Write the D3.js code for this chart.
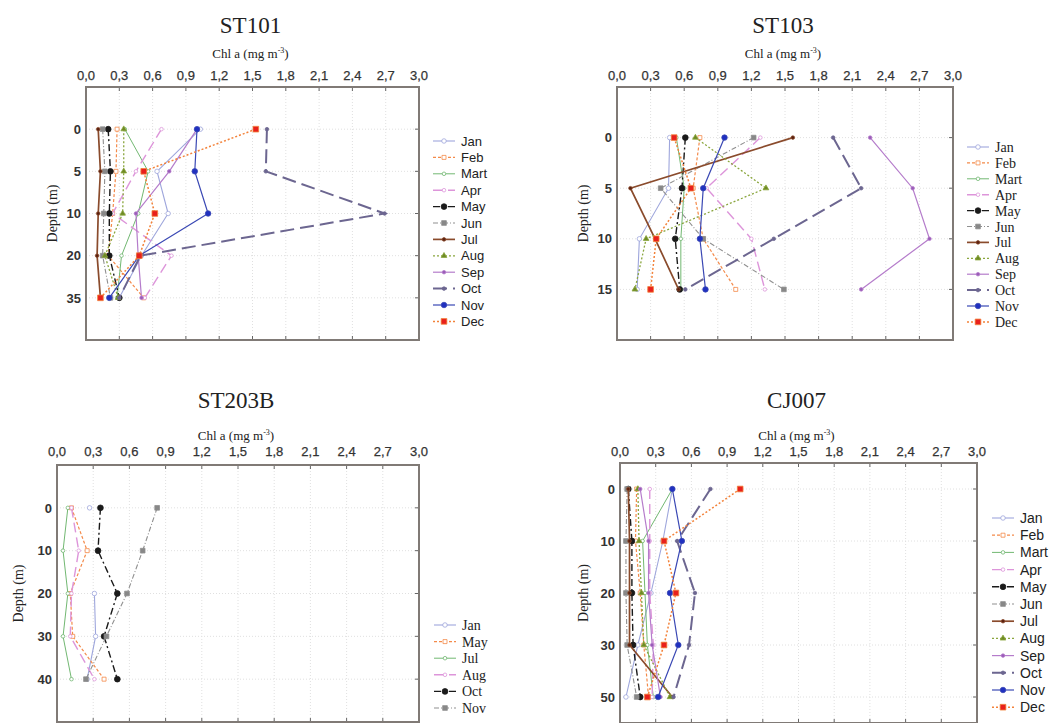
<!DOCTYPE html>
<html>
<head>
<meta charset="utf-8">
<script src="https://cdn.jsdelivr.net/npm/d3@7"></script>
<style>
  body { margin: 0; background: #fff; }
  svg { display: block; }
</style>
</head>
<body>
<svg id="chart" width="1053" height="723"></svg>
<script>
// chl a ticks, shared by all four panels
const xTicks = [0, 0.3, 0.6, 0.9, 1.2, 1.5, 1.8, 2.1, 2.4, 2.7, 3.0];

// ST101
const st101Depths = [0, 5, 10, 20, 35];
const st101Months = ["Jan", "Feb", "Mart", "Apr", "May", "Jun", "Jul", "Aug", "Sep", "Oct", "Nov", "Dec"];
const st101Values = [
  [1.03, 0.64, 0.74, 0.50, 0.30],
  [0.28, 0.27, 0.24, 0.20, 0.52],
  [0.35, 0.56, 0.47, 0.32, 0.28],
  [0.68, 0.45, 0.24, 0.77, 0.53],
  [0.20, 0.22, 0.21, 0.21, 0.30],
  [0.15, 0.17, 0.16, 0.15, 0.22],
  [0.11, 0.13, 0.11, 0.10, 0.13],
  [0.34, 0.34, 0.33, 0.17, 0.29],
  [1.00, 0.75, 0.45, 0.47, 0.50],
  [1.63, 1.62, 2.69, 0.49, 0.30],
  [1.00, 0.98, 1.10, 0.48, 0.21],
  [1.53, 0.52, 0.62, 0.48, 0.13]
];

// ST103
const st103Depths = [0, 5, 10, 15];
const st103Months = ["Jan", "Feb", "Mart", "Apr", "May", "Jun", "Jul", "Aug", "Sep", "Oct", "Nov", "Dec"];
const st103Values = [
  [0.47, 0.46, 0.20, 0.18],
  [0.74, 0.68, 0.77, 1.06],
  [0.53, 0.60, 0.57, 0.57],
  [1.28, 0.80, 1.20, 1.32],
  [0.61, 0.58, 0.52, 0.56],
  [1.22, 0.39, 0.77, 1.49],
  [1.57, 0.12, 0.34, 0.55],
  [0.70, 1.33, 0.26, 0.16],
  [2.26, 2.64, 2.79, 2.18],
  [1.93, 2.18, 1.40, 0.61],
  [0.96, 0.77, 0.74, 0.79],
  [0.51, 0.66, 0.35, 0.30]
];

// ST203B
const st203bDepths = [0, 10, 20, 30, 40];
const st203bMonths = ["Jan", "May", "Jul", "Aug", "Oct", "Nov"];
const st203bValues = [
  [0.27, null, 0.31, 0.32, 0.25],
  [0.12, 0.25, 0.11, 0.13, 0.39],
  [0.09, 0.05, 0.09, 0.05, 0.12],
  [0.12, 0.18, 0.12, 0.11, 0.31],
  [0.36, 0.34, 0.50, 0.39, 0.50],
  [0.83, 0.71, 0.58, 0.41, 0.24]
];

// CJ007
const cj007Depths = [0, 10, 20, 30, 50];
const cj007Months = ["Jan", "Feb", "Mart", "Apr", "May", "Jun", "Jul", "Aug", "Sep", "Oct", "Nov", "Dec"];
const cj007Values = [
  [0.44, 0.36, 0.26, 0.15, 0.05],
  [0.14, 0.13, 0.17, 0.20, 0.24],
  [0.44, 0.19, 0.21, 0.23, 0.28],
  [0.25, 0.25, 0.25, 0.28, 0.27],
  [0.07, 0.10, 0.10, 0.11, 0.17],
  [0.06, 0.05, 0.05, 0.06, 0.14],
  [0.07, 0.08, 0.08, 0.08, 0.44],
  [0.15, 0.16, 0.18, 0.20, 0.42],
  [0.17, 0.24, 0.24, 0.27, 0.34],
  [0.76, 0.48, 0.63, 0.58, 0.45],
  [0.44, 0.52, 0.42, 0.49, 0.32],
  [1.01, 0.37, 0.47, 0.37, 0.23]
];

// line styles go by series order, like the original plotting program
const styles = [
  { color: "#9ea6dc", dash: null,      w: 1.1, sym: d3.symbolCircle,   size: 16, fill: "#fff" },
  { color: "#f48a4a", dash: "3,2",     w: 1.2, sym: d3.symbolSquare,   size: 16, fill: "#fff" },
  { color: "#72b872", dash: null,      w: 1.0, sym: d3.symbolCircle,   size: 10, fill: "#fff" },
  { color: "#dd95da", dash: "10,5",    w: 1.4, sym: d3.symbolCircle,   size: 10, fill: "#fff" },
  { color: "#1a1a1a", dash: "7,3,2,3", w: 1.4, sym: d3.symbolCircle,   size: 26, fill: "#1a1a1a" },
  { color: "#909090", dash: "5,2,1,2", w: 1.1, sym: d3.symbolSquare,   size: 22, fill: "#888" },
  { color: "#8a4b2c", dash: null,      w: 1.7, sym: d3.symbolCircle,   size: 10, fill: "#5a2010" },
  { color: "#8aa63e", dash: "2,2",     w: 1.3, sym: d3.symbolTriangle, size: 14, fill: "#6e8a24" },
  { color: "#b57ccb", dash: null,      w: 1.2, sym: d3.symbolCircle,   size: 10, fill: "#9a5cb8" },
  { color: "#6c6690", dash: "14,6",    w: 2.0, sym: d3.symbolCircle,   size: 10, fill: "#6c6690" },
  { color: "#3a48b4", dash: null,      w: 1.2, sym: d3.symbolCircle,   size: 24, fill: "#2030c0" },
  { color: "#f3823a", dash: "2,2",     w: 1.5, sym: d3.symbolSquare,   size: 32, fill: "#e8201c" }
];

const panels = [
  { title: "ST101", depths: st101Depths, months: st101Months, values: st101Values,
    box: [86, 419, 87, 340], pad: 1, titleY: 33, chlY: 58, tickY: 80, depthX: 52,
    legend: { x: 433, y: 141, dy: 16.4, font: "Liberation Sans", size: 13 } },
  { title: "ST103", depths: st103Depths, months: st103Months, values: st103Values,
    box: [617, 953, 87, 340], pad: 1, titleY: 33, chlY: 58, tickY: 80, depthX: 583,
    legend: { x: 967, y: 147, dy: 15.9, font: "Liberation Serif", size: 14 } },
  { title: "ST203B", depths: st203bDepths, months: st203bMonths, values: st203bValues,
    box: [57, 419, 465, 722], pad: 1, titleY: 408, chlY: 440, tickY: 456, depthX: 18,
    legend: { x: 434, y: 625, dy: 16.6, font: "Liberation Serif", size: 14 } },
  { title: "CJ007", depths: cj007Depths, months: cj007Months, values: cj007Values,
    box: [620, 977, 463, 723], pad: 0.5, titleY: 408, chlY: 440, tickY: 456, depthX: 583,
    legend: { x: 992, y: 518, dy: 17.2, font: "Liberation Sans", size: 14 } }
];

const svg = d3.select("#chart");
const fmt = v => d3.format(".1f")(v).replace(".", ",");

panels.forEach(p => {
  const [x0, x1, y0, y1] = p.box;
  const x = d3.scaleLinear().domain([0, 3]).range([x0, x1]);
  const y = d3.scalePoint().domain(p.depths).range([y0, y1]).padding(p.pad);
  const g = svg.append("g");
  const cx = (x0 + x1) / 2 - 2;

  // grid
  g.selectAll(".gx").data(xTicks.slice(1, -1)).enter().append("line")
    .attr("x1", d => x(d)).attr("x2", d => x(d)).attr("y1", y0).attr("y2", y1)
    .attr("stroke", "#e0e0e0").attr("stroke-dasharray", "1,2");
  g.selectAll(".gy").data(p.depths).enter().append("line")
    .attr("x1", x0).attr("x2", x1).attr("y1", d => y(d)).attr("y2", d => y(d))
    .attr("stroke", "#e0e0e0").attr("stroke-dasharray", "1,2");

  // titles
  g.append("text").attr("x", cx).attr("y", p.titleY).attr("text-anchor", "middle")
    .attr("font-family", "Liberation Serif").attr("font-size", 23).attr("fill", "#222")
    .text(p.title);
  const chl = g.append("text").attr("x", cx).attr("y", p.chlY).attr("text-anchor", "middle")
    .attr("font-family", "Liberation Serif").attr("font-size", 13).attr("fill", "#222");
  chl.append("tspan").text("Chl a (mg m");
  chl.append("tspan").attr("font-size", 8).attr("dy", -5).text("-3");
  chl.append("tspan").attr("dy", 5).text(")");

  // x tick labels on top
  g.selectAll(".xl").data(xTicks).enter().append("text")
    .attr("x", d => x(d)).attr("y", p.tickY).attr("text-anchor", "middle")
    .attr("font-family", "Liberation Sans").attr("font-size", 13).attr("fill", "#333")
    .attr("stroke", "#333").attr("stroke-width", 0.25)
    .text(fmt);

  // depth labels
  g.selectAll(".yl").data(p.depths).enter().append("text")
    .attr("x", x0 - 5).attr("y", d => y(d)).attr("dy", "0.36em").attr("text-anchor", "end")
    .attr("font-family", "Liberation Sans").attr("font-weight", "bold").attr("font-size", 13)
    .attr("fill", "#333").text(d => d);
  g.append("text")
    .attr("transform", `translate(${p.depthX},${(y0 + y1) / 2}) rotate(-90)`)
    .attr("text-anchor", "middle").attr("dy", "0.35em")
    .attr("font-family", "Liberation Serif").attr("font-size", 14).attr("fill", "#222")
    .text("Depth (m)");

  // inner tick marks
  xTicks.forEach(t => {
    g.append("line").attr("x1", x(t)).attr("x2", x(t)).attr("y1", y0).attr("y2", y0 + 4).attr("stroke", "#666");
    g.append("line").attr("x1", x(t)).attr("x2", x(t)).attr("y1", y1).attr("y2", y1 - 4).attr("stroke", "#666");
  });
  p.depths.forEach(d => {
    g.append("line").attr("x1", x1).attr("x2", x1 - 4).attr("y1", y(d)).attr("y2", y(d)).attr("stroke", "#666");
  });

  // profiles
  const line = d3.line()
    .defined(d => d.v != null)
    .x(d => x(d.v)).y(d => y(d.depth));
  p.values.forEach((vals, i) => {
    const s = styles[i];
    const pts = vals.map((v, j) => ({ v: v, depth: p.depths[j] }));
    g.append("path").datum(pts).attr("d", line)
      .attr("fill", "none").attr("stroke", s.color).attr("stroke-width", s.w)
      .attr("stroke-dasharray", s.dash);
    g.selectAll(null).data(pts.filter(d => d.v != null)).enter().append("path")
      .attr("d", d3.symbol().type(s.sym).size(s.size))
      .attr("transform", d => `translate(${x(d.v)},${y(d.depth)})`)
      .attr("fill", s.fill).attr("stroke", s.color).attr("stroke-width", 0.8);
  });

  // frame
  g.append("rect").attr("x", x0).attr("y", y0).attr("width", x1 - x0).attr("height", y1 - y0)
    .attr("fill", "none").attr("stroke", "#807a76").attr("stroke-width", 2);

  // legend
  const L = p.legend;
  p.months.forEach((m, i) => {
    const s = styles[i];
    const ly = L.y + i * L.dy;
    g.append("line").attr("x1", L.x).attr("x2", L.x + 22).attr("y1", ly).attr("y2", ly)
      .attr("stroke", s.color).attr("stroke-width", s.w).attr("stroke-dasharray", s.dash);
    g.append("path").attr("d", d3.symbol().type(s.sym).size(s.size))
      .attr("transform", `translate(${L.x + 11},${ly})`)
      .attr("fill", s.fill).attr("stroke", s.color).attr("stroke-width", 0.8);
    g.append("text").attr("x", L.x + 28).attr("y", ly).attr("dy", "0.36em")
      .attr("font-family", L.font).attr("font-size", L.size).attr("fill", "#222")
      .text(m);
  });
});
</script>
</body>
</html>
